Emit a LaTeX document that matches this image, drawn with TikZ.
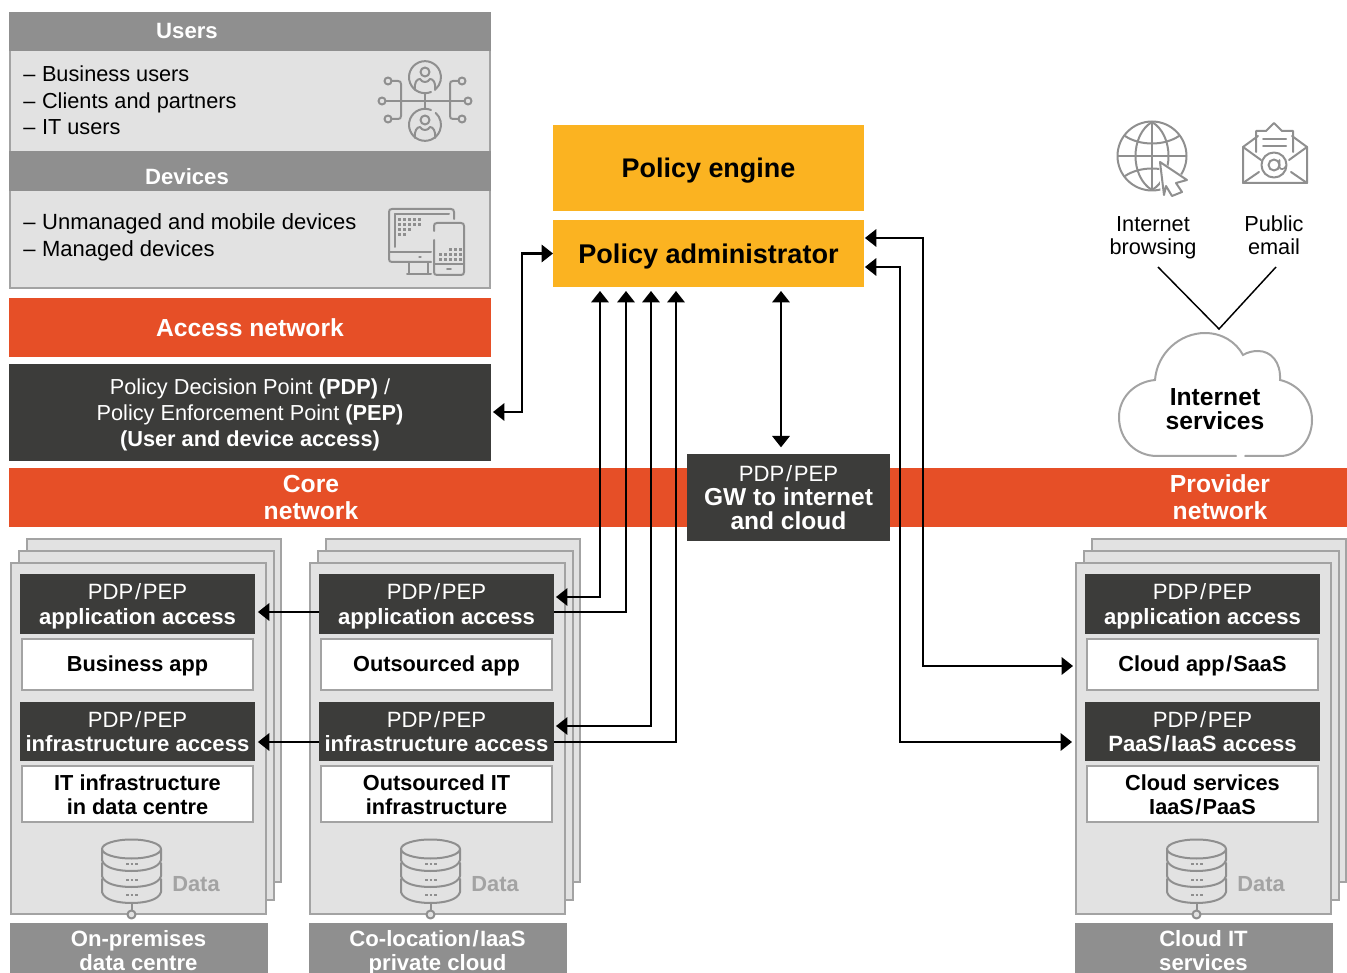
\documentclass[tikz,border=0pt]{standalone}
\usepackage{fontspec}
\setmainfont{Liberation Sans}
\usetikzlibrary{arrows.meta,calc}
\pgfdeclarelayer{panels}
\pgfdeclarelayer{links}
\pgfsetlayers{panels,links,main}
\definecolor{pgray}{HTML}{8F8F8F}
\definecolor{pline}{HTML}{A3A3A3}
\definecolor{pfill}{HTML}{E2E2E2}
\definecolor{pdark}{HTML}{3C3C3A}
\definecolor{porange}{HTML}{E64F27}
\definecolor{pyellow}{HTML}{FBB321}
\newcommand{\fsz}[2]{\fontsize{#1}{#2}\selectfont}
\newcommand{\pp}{PDP\kern1.2pt/\kern1.2pt PEP}
\tikzset{
  x=0.75pt,y=-0.75pt,
  block/.style={inner sep=0pt,outer sep=0pt,align=center,anchor=north west},
  darkbox/.style={block,fill=pdark,text=white},
  orangebox/.style={block,fill=porange,text=white},
  yellowbox/.style={block,fill=pyellow,text=black},
  greybox/.style={block,fill=pgray,text=white},
  panelbox/.style={block,fill=pfill,draw=pline,line width=1.5pt},
  whitebox/.style={block,fill=white,draw=pline,line width=1.5pt,text=black},
  plain/.style={inner sep=0pt,align=center},
  listing/.style={inner sep=0pt,align=left,anchor=base west,font=\fsz{16.3}{18}},
  icon/.style={draw=pgray,line width=1.5pt,line cap=round,line join=round,fill=none},
  linkpath/.style={draw=black,line width=1.6pt,line join=miter},
  biarrow/.style={linkpath,{Triangle[length=8.5pt,width=13pt]}-{Triangle[length=8.5pt,width=13pt]}},
}
% \bx{style}{name}{x1}{y1}{x2}{y2}{text}
\newcommand{\bx}[7]{%
  \pgfmathsetmacro{\bxw}{0.75*(#5-#3)}%
  \pgfmathsetmacro{\bxh}{0.75*(#6-#4)}%
  \node[#1,minimum width=\bxw pt,minimum height=\bxh pt] (#2) at (#3,#4) {#7};}
% one stacked site: offset, prefix, texts
\newcommand{\site}[7]{%
\begin{scope}[xshift=#1*0.75pt]
  \begin{pgfonlayer}{panels}
    \bx{panelbox}{#2back}{27}{539}{281}{882}{}
    \bx{panelbox}{#2mid}{19}{551}{274}{900}{}
    \bx{panelbox}{#2front}{11}{563}{266}{914}{}
  \end{pgfonlayer}
  \bx{darkbox,font=\fsz{16.6}{18.6}}{#2pa}{20}{574}{255}{634}{\pp\\\textbf{\smash{#3}}}
  \bx{whitebox}{#2app}{22}{639}{253}{690}{}
  \node[plain,text=black,font=\fsz{16.3}{18}\bfseries] (#2apptext) at (137.5,666) {#4};
  \bx{darkbox,font=\fsz{16.6}{18.6}}{#2pi}{20}{702}{255}{761}{\pp\\\textbf{\smash{#5}}}
  \bx{whitebox}{#2inf}{22}{766}{253}{822}{}
  \node[plain,text=black,font=\fsz{16.3}{18}\bfseries] (#2inftext) at (137.5,795) {#6};
  \bx{greybox}{#2foot}{10}{923}{268}{973}{}
  \node[plain,anchor=base,text=white,font=\fsz{16.6}{18}\bfseries] (#2foottext) at (138.5,970.5) {#7};
  \node[plain,text=pline,font=\fsz{16.4}{18}\bfseries] (#2data) at (196,884) {Data};
  % database icon
  \draw[icon] (131.5,849) ellipse[x radius=29.5,y radius=9.5];
  \draw[icon] (102,849) -- (102,860) .. controls (104,868) and (118,871) .. (131.5,871) .. controls (145,871) and (159,868) .. (161,860) -- (161,849);
  \draw[icon] (102,863) -- (102,876) .. controls (104,884) and (118,887) .. (131.5,887) .. controls (145,887) and (159,884) .. (161,876) -- (161,863);
  \draw[icon] (102,879) -- (102,892) .. controls (104,900) and (118,903) .. (131.5,903) .. controls (145,903) and (159,900) .. (161,892) -- (161,879);
  \foreach \dy in {864,880,895}{\draw[icon,line width=1.2pt,dash pattern=on 2pt off 1.5pt,line cap=butt] (126,\dy) -- (138,\dy);}
  \draw[icon] (131.5,903) -- (131.5,910);
  \draw[icon,fill=pfill] (131.5,914.5) circle[radius=4];
\end{scope}}
\begin{document}
\begin{tikzpicture}
\useasboundingbox (0,0) rectangle (1347,973);
% left top stack
\bx{panelbox}{userpanel}{10}{48}{490}{153}{}
\bx{panelbox}{devpanel}{10}{188}{490}{288}{}
\bx{greybox}{userhead}{9}{12}{491}{51}{}
\node[plain,text=white,font=\fsz{16.6}{18}\bfseries] (usertitle) at (187,31) {Users};
\bx{greybox}{devhead}{9}{151}{491}{191}{}
\node[plain,text=white,font=\fsz{16.6}{18}\bfseries] (devtitle) at (187,177) {Devices};
\node[listing] (u1) at (23,82) {–\kern5pt Business users};
\node[listing] (u2) at (23,109) {–\kern5pt Clients and partners};
\node[listing] (u3) at (23,135) {–\kern5pt IT users};
\node[listing,font=\fsz{16.5}{18}] (d1) at (23,230) {–\kern5pt Unmanaged and mobile devices};
\node[listing,font=\fsz{16.5}{18}] (d2) at (23,257) {–\kern5pt Managed devices};
% users icon
\draw[icon] (431,92) arc[start angle=68,end angle=408,radius=16];
\draw[icon] (425,72) circle[radius=4.5];
\draw[icon] (415,90) .. controls (414,82) and (417,79) .. (420,79) .. controls (422,83) and (428,83) .. (430,79) .. controls (433,79) and (436,82) .. (435,90);
\draw[icon] (425,93) -- (425,109);
\draw[icon] (431,110) arc[start angle=-68,end angle=-408,radius=16];
\draw[icon] (425,120) circle[radius=4.5];
\draw[icon] (415,138) .. controls (414,131) and (417,127) .. (420,127) .. controls (422,131) and (428,131) .. (430,127) .. controls (433,127) and (436,131) .. (435,138);
\draw[icon] (385.5,101) -- (464.5,101);
\draw[icon] (382,101) circle[radius=3.5];
\draw[icon] (468,101) circle[radius=3.5];
\draw[icon] (391.5,81) -- (398,81) .. controls (400,81) and (401,82) .. (401,84) -- (401,116) .. controls (401,118) and (400,119) .. (398,119) -- (391.5,119);
\draw[icon] (388,81) circle[radius=3.5];
\draw[icon] (388,119) circle[radius=3.5];
\draw[icon] (458.5,81) -- (453,81) .. controls (451,81) and (450,82) .. (450,84) -- (450,116) .. controls (450,118) and (451,119) .. (453,119) -- (458.5,119);
\draw[icon] (462,81) circle[radius=3.5];
\draw[icon] (462,119) circle[radius=3.5];
% device icon
\draw[icon] (431,262) -- (392,262) .. controls (390,262) and (389,261) .. (389,259) -- (389,212) .. controls (389,210) and (390,209) .. (392,209) -- (451,209) .. controls (453,209) and (454,210) .. (454,212) -- (454,219);
\draw[icon] (389,252) -- (431,252);
\draw[icon] (395,214) -- (449,214);
\draw[icon] (395,214) -- (395,247);
\draw[icon] (409,263) -- (409,273) (428,263) -- (428,273) (407,274) -- (431,274);
\draw[icon,line width=1pt] (419,257) -- (421,257);
\draw[icon] (434,240) -- (434,272) .. controls (434,274) and (435,275) .. (437,275) -- (461,275) .. controls (463,275) and (464,274) .. (464,272) -- (464,226) .. controls (464,224) and (463,223) .. (461,223) -- (437,223) .. controls (435,223) and (434,224) .. (434,226) -- (434,231);
\draw[icon] (434,264) -- (464,264);
\draw[icon,line width=1.2pt] (447,269) -- (451,269);
\foreach \dx in {398,403,408,413,418}{\foreach \dy in {218,223}{\fill[pgray] (\dx,\dy) rectangle ++(3,3);}}
\foreach \dx in {398,403,408}{\fill[pgray] (\dx,228) rectangle ++(3,3);}
\foreach \dx in {398,403}{\fill[pgray] (\dx,233) rectangle ++(3,3);}
\foreach \dx in {449,454,459}{\fill[pgray] (\dx,248) rectangle ++(3,3);}
\foreach \dx in {439,444,449,454,459}{\foreach \dy in {253,258}{\fill[pgray] (\dx,\dy) rectangle ++(3,3);}}
% access, pdp
\bx{orangebox,font=\fsz{18.5}{20}\bfseries}{access}{9}{298}{491}{357}{Access network}
\bx{darkbox}{pdp}{9}{364}{491}{461}{}
\node[plain,text=white,font=\fsz{16.3}{19.5}] (pdptext) at (250,414.5) {Policy Decision Point \textbf{(PDP)} /\\Policy Enforcement Point \textbf{(PEP)}\\\textbf{(User and device access)}};
% bands
\begin{pgfonlayer}{panels}
\bx{orangebox}{band}{9}{468}{1347}{527}{}
\end{pgfonlayer}
\node[plain,text=white,font=\fsz{18.5}{20}\bfseries] (core) at (311,497.5) {Core\\network};
\node[plain,text=white,font=\fsz{18.5}{20}\bfseries] (provider) at (1220,497.5) {Provider\\network};
\bx{darkbox,font=\fsz{18.4}{18}\bfseries}{gw}{687}{454}{890}{541}{\fontsize{16.6}{18}\mdseries\selectfont\pp\\GW to internet\\and cloud}
% policy
\bx{yellowbox,font=\fsz{20.2}{22}\bfseries}{engine}{553}{125}{864}{211}{\raisebox{-2.25pt}[\height][\depth]{Policy engine}}
\bx{yellowbox,font=\fsz{20.3}{22}\bfseries}{admin}{553}{220}{864}{287}{\raisebox{-2.25pt}[\height][\depth]{Policy administrator}}
% sites
\site{0}{a}{application access}{Business app}{infrastructure access}{IT infrastructure\\in data centre}{On-premises\\data centre}
\site{299}{b}{application access}{Outsourced app}{infrastructure access}{Outsourced IT\\infrastructure}{Co-location\kern1pt/\kern1pt IaaS\\private cloud}
\site{1065}{c}{application access}{Cloud app\kern1pt/\kern1pt SaaS}{PaaS\kern1pt/\kern1pt IaaS access}{Cloud services\\IaaS\kern1pt/\kern1pt PaaS}{Cloud IT\\services}
% connector corners
\coordinate (k0) at (522,412);
\coordinate (k1) at (600,597);
\coordinate (k2) at (626,612);
\coordinate (k3) at (651,726);
\coordinate (k4) at (676,742);
\coordinate (k5) at (781,400);
\coordinate (k6) at (923,238);
\coordinate (k7) at (923,666);
\coordinate (k8) at (900,267);
\coordinate (k9) at (900,742);
\begin{pgfonlayer}{links}
\draw[biarrow,shorten <=1.5pt,shorten >=0pt] (pdp.east |- k0) -- (k0) -- (k0 |- admin.west) -- (admin.west);
\draw[biarrow,shorten <=3pt,shorten >=1.5pt] (admin.south -| k1) -- (k1) -- (bpa.east |- k1);
\draw[biarrow,shorten <=3pt,shorten >=2.2pt] (admin.south -| k2) -- (k2) -- (apa.east |- k2);
\draw[biarrow,shorten <=3pt,shorten >=1.5pt] (admin.south -| k3) -- (k3) -- (bpi.east |- k3);
\draw[biarrow,shorten <=3pt,shorten >=2.2pt] (admin.south -| k4) -- (k4) -- (api.east |- k4);
\draw[biarrow,shorten <=3pt,shorten >=5pt] (admin.south -| k5) -- (gw.north -| k5);
\draw[biarrow,shorten <=0.7pt,shorten >=10.5pt] (admin.east |- k6) -- (k6) -- (k7) -- (capp.west |- k7);
\draw[biarrow,shorten <=0.7pt,shorten >=9.75pt] (admin.east |- k8) -- (k8) -- (k9) -- (cpi.west |- k9);
\end{pgfonlayer}
% internet icons
\draw[icon] (1152,156) circle[radius=34.5];
\draw[icon] (1152,122) -- (1152,190);
\draw[icon] (1118,156) -- (1186,156);
\draw[icon] (1152,122) .. controls (1130,135) and (1130,177) .. (1152,190);
\draw[icon] (1152,122) .. controls (1174,135) and (1174,177) .. (1152,190);
\draw[icon] (1125,136) .. controls (1140,146) and (1164,146) .. (1179,136);
\draw[icon] (1125,176) .. controls (1140,166) and (1164,166) .. (1179,176);
\path[fill=white] (1159,160) -- (1191,181) -- (1180,185) -- (1186,197) -- (1171,199) -- (1166,189) -- (1161,200) -- cycle;
\draw[icon] (1160,162) -- (1187,180) -- (1176,183) -- (1182,192) -- (1172,196) -- (1166,186) -- (1164,195) -- cycle;
\draw[icon] (1243,147) -- (1243,183) -- (1307,183) -- (1307,147) -- (1292,136);
\draw[icon] (1258,136) -- (1243,147);
\draw[icon] (1243,147) -- (1261,160);
\draw[icon] (1307,147) -- (1289,160);
\draw[icon] (1243,183) -- (1259,172);
\draw[icon] (1307,183) -- (1291,172);
\draw[icon] (1256,152) -- (1256,131) -- (1266,131) -- (1274,123) -- (1282,131) -- (1293,131) -- (1293,152);
\draw[icon] (1263,139) -- (1286,139) (1263,146) -- (1286,146);
\draw[icon] (1274,165) circle[radius=12.5];
\draw[icon] (1274,165) circle[radius=5.5];
\draw[icon,line width=1.2pt] (1279.5,160) -- (1279.5,167) .. controls (1280,170) and (1284,170) .. (1286,166);
\node[plain,font=\fsz{16.3}{17.3}] (browse) at (1153,237.5) {Internet\\browsing};
\node[plain,font=\fsz{16.3}{17.3}] (mail) at (1274,235.5) {Public\\email};
% cloud
\draw[draw=pline,line width=1.5pt,line cap=round] (1236,456) -- (1157,456) .. controls (1136,456) and (1119,440) .. (1119,417) .. controls (1119,398) and (1134,382) .. (1155,380) .. controls (1157,353) and (1180,333) .. (1205,333) .. controls (1222,333) and (1236,342) .. (1243,355) .. controls (1248,352) and (1253,351) .. (1258,351) .. controls (1271,351) and (1281,362) .. (1280,380) .. controls (1298,384) and (1312,400) .. (1312,420) .. controls (1312,440) and (1298,456) .. (1280,456) -- (1245,456);
\node[plain,font=\fsz{18.5}{18}\bfseries] (cloudtext) at (1215,409) {Internet\\services};
\coordinate (v0) at (1158,267);
\coordinate (v1) at (1219,329);
\coordinate (v2) at (1276,267);
\draw[draw=black,line width=1.1pt] (v0) -- (v1) -- (v2);
\end{tikzpicture}
\end{document}
